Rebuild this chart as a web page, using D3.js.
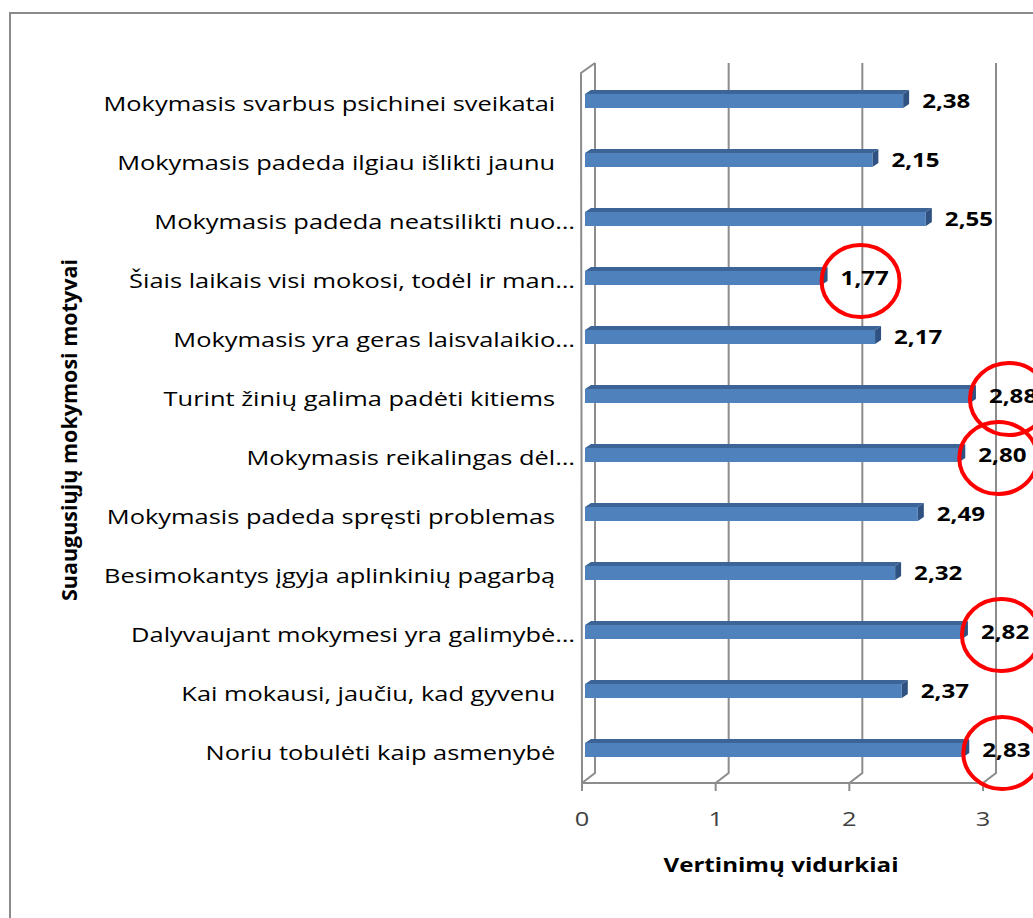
<!DOCTYPE html>
<html>
<head>
<meta charset="utf-8">
<script src="https://cdn.jsdelivr.net/npm/d3@7"></script>
<style>
  body { margin: 0; background: #fff; }
  svg { display: block; }
  text { font-family: "Open Sans", "Noto Sans", sans-serif; }
</style>
</head>
<body>
<svg width="1033" height="918"></svg>
<script>
var svg = d3.select("svg"),
	width = +svg.attr("width"),
	height = +svg.attr("height");

// chart data
var categories = [
	"Mokymasis svarbus psichinei sveikatai ",
	"Mokymasis padeda ilgiau išlikti jaunu ",
	"Mokymasis padeda neatsilikti nuo…",
	"Šiais laikais visi mokosi, todėl ir man…",
	"Mokymasis yra geras laisvalaikio…",
	"Turint žinių galima padėti kitiems ",
	"Mokymasis reikalingas dėl…",
	"Mokymasis padeda spręsti problemas ",
	"Besimokantys įgyja aplinkinių pagarbą ",
	"Dalyvaujant mokymesi yra galimybė…",
	"Kai mokausi, jaučiu, kad gyvenu ",
	"Noriu tobulėti kaip asmenybė "
];
var values = [2.38, 2.15, 2.55, 1.77, 2.17, 2.88, 2.80, 2.49, 2.32, 2.82, 2.37, 2.83];
var circled = [3, 5, 6, 9, 11]; // labels with red rings
var xTicks = [0, 1, 2, 3];
var yTitle = "Suaugusiųjų mokymosi motyvai";
var xTitle = "Vertinimų vidurkiai";

var depthX = 13, depthY = -10;   // wall depth
var barDX = 6, barDY = -4;       // bar depth
var floorY = 783, topY = 63;
var stretch = 1.27;              // the source picture is wider than tall

var x = d3.scaleLinear().domain([0, 3]).range([582, 983]);
var y = d3.scaleBand().domain(categories).range([71.5, 779.5]);
var barH = 14;

function place(px, py) {
	return "translate(" + px + "," + py + ") scale(" + stretch + ",1)";
}

// outer frame
svg.append("rect")
	.attr("x", 10).attr("y", 13)
	.attr("width", 1100).attr("height", 1000)
	.style("fill", "none")
	.style("stroke", "#8a8a8a")
	.style("stroke-width", 2);

var grid = svg.append("g")
	.style("fill", "none")
	.style("stroke", "#8c8c8c")
	.style("stroke-width", 2);

// back gridlines + floor diagonals
grid.selectAll("path.gl")
	.data(xTicks)
	.enter().append("path")
	.attr("class", "gl")
	.attr("d", function (d) {
		var xf = x(d), xb = xf + depthX;
		return "M" + xb + "," + topY + "L" + xb + "," + (floorY + depthY) + "L" + xf + "," + floorY;
	});

// left wall front edge and top slant
grid.append("path")
	.attr("d", "M" + (x(0) + depthX) + "," + topY +
		"L" + (x(0) - 1) + "," + (topY - depthY) +
		"L" + x(0) + "," + floorY);

// floor front line
grid.append("line")
	.attr("x1", x(0)).attr("x2", x(3))
	.attr("y1", floorY).attr("y2", floorY);

// ticks
grid.selectAll("line.tk")
	.data(xTicks)
	.enter().append("line")
	.attr("class", "tk")
	.attr("x1", function (d) { return x(d); })
	.attr("x2", function (d) { return x(d); })
	.attr("y1", floorY).attr("y2", floorY + 8);

// tick labels
svg.selectAll("text.tl")
	.data(xTicks)
	.enter().append("text")
	.attr("class", "tl")
	.attr("transform", function (d) { return place(x(d), 826); })
	.attr("text-anchor", "middle")
	.style("font-size", "20px")
	.style("fill", "#404040")
	.text(function (d) { return d; });

// bars
var bars = svg.selectAll("g.bar")
	.data(values)
	.enter().append("g")
	.attr("class", "bar")
	.attr("transform", function (d, i) {
		return "translate(0," + (y(categories[i]) + y.bandwidth() / 2 - barH / 2) + ")";
	});

var x0 = x(0) + 3;

// top face
bars.append("path")
	.attr("d", function (d) {
		var x1 = x0 + (x(d) - x(0));
		return "M" + x0 + ",0L" + (x0 + barDX) + "," + barDY + "L" + (x1 + barDX) + "," + barDY + "L" + x1 + ",0Z";
	})
	.style("fill", "#3d6496");

// end face
bars.append("path")
	.attr("d", function (d) {
		var x1 = x0 + (x(d) - x(0));
		return "M" + x1 + ",0L" + (x1 + barDX) + "," + barDY + "L" + (x1 + barDX) + "," + (barH + barDY) + "L" + x1 + "," + barH + "Z";
	})
	.style("fill", "#2f5282");

// front face
bars.append("rect")
	.attr("x", x0)
	.attr("y", 0)
	.attr("width", function (d) { return x(d) - x(0); })
	.attr("height", barH)
	.style("fill", "#4f81bd");

// value labels
var fmt = function (v) { return d3.format(".2f")(v).replace(".", ","); };
function labelX(v) { return x0 + (x(v) - x(0)) + barDX + 13; }

svg.selectAll("text.vl")
	.data(values)
	.enter().append("text")
	.attr("class", "vl")
	.attr("transform", function (d, i) {
		return place(labelX(d), y(categories[i]) + y.bandwidth() / 2);
	})
	.attr("dy", "0.36em")
	.style("font-size", "19px")
	.style("font-weight", "bold")
	.style("fill", "#000")
	.text(fmt);

// category labels
svg.selectAll("text.cl")
	.data(categories)
	.enter().append("text")
	.attr("class", "cl")
	.attr("transform", function (d) { return place(575, y(d) + y.bandwidth() / 2 + 3); })
	.attr("dy", "0.36em")
	.attr("text-anchor", "end")
	.style("white-space", "pre")
	.style("font-size", "20px")
	.style("fill", "#000")
	.text(function (d) { return d.replace(/ $/, "\u00a0\u00a0\u00a0"); });

// axis titles
svg.append("text")
	.attr("transform", "translate(77,430) rotate(-90)")
	.attr("text-anchor", "middle")
	.style("font-size", "21.5px")
	.style("font-weight", "bold")
	.text(yTitle);

svg.append("text")
	.attr("transform", place(781, 872))
	.attr("text-anchor", "middle")
	.style("font-size", "19px")
	.style("font-weight", "bold")
	.text(xTitle);

// red rings around selected labels
svg.selectAll("ellipse.ring")
	.data(circled)
	.enter().append("ellipse")
	.attr("class", "ring")
	.attr("cx", function (i) { return labelX(values[i]) + 20; })
	.attr("cy", function (i) { return y(categories[i]) + y.bandwidth() / 2 + 3; })
	.attr("rx", 39)
	.attr("ry", 36)
	.style("fill", "none")
	.style("stroke", "#ff0000")
	.style("stroke-width", 4);
</script>
</body>
</html>
